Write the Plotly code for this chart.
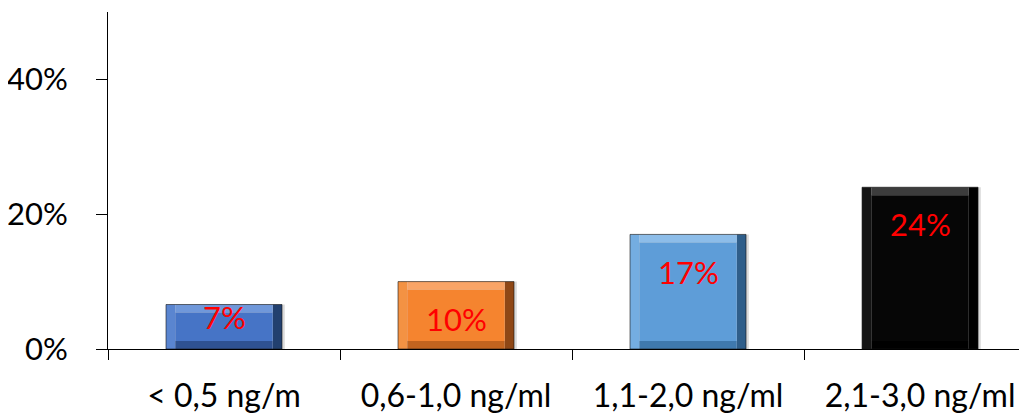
import plotly.graph_objects as go

categories = ["< 0,5 ng/m", "0,6-1,0 ng/ml", "1,1-2,0 ng/ml", "2,1-3,0 ng/ml"]
values = [6.6, 10.0, 17.0, 24.0]
labels = ["7%", "10%", "17%", "24%"]
tick_vals = [0, 20, 40]
tick_text = ["0%", "20%", "40%"]

face_colors = ["#4674C6", "#F5842F", "#5E9DD8", "#060606"]
top_colors = ["#7098DA", "#F9A466", "#8DBDE9", "#3C3C3C"]
left_colors = ["#5A85D0", "#F39243", "#74ADE1", "#141414"]
right_colors = ["#22406F", "#8E4716", "#2F5E8A", "#000000"]
bottom_colors = ["#2F5292", "#C2641F", "#3F79AE", "#000000"]
font_family = "Lato, 'Open Sans', sans-serif"

W = 0.5      # bar width (category units)
side = 0.04  # bevel side width (category units)
inset = 1.2  # bevel height (value units)

fig = go.Figure()
common = dict(x=categories, hoverinfo="skip", showlegend=False)
# soft shadow
fig.add_trace(go.Bar(y=values, width=W, offset=-W / 2 + 0.012,
                     marker=dict(color="rgba(0,0,0,0.14)", line=dict(width=0)), **common))
# left bevel
fig.add_trace(go.Bar(y=values, width=side, offset=-W / 2,
                     marker=dict(color=left_colors, line=dict(width=0)), **common))
# right bevel
fig.add_trace(go.Bar(y=values, width=side, offset=W / 2 - side,
                     marker=dict(color=right_colors, line=dict(width=0)), **common))
# bottom bevel
fig.add_trace(go.Bar(y=[inset] * len(values), base=0, width=W - 2 * side,
                     marker=dict(color=bottom_colors, line=dict(width=0)), **common))
# top bevel
fig.add_trace(go.Bar(y=[inset] * len(values), base=[v - inset for v in values],
                     width=W - 2 * side,
                     marker=dict(color=top_colors, line=dict(width=0)), **common))
# face
fig.add_trace(go.Bar(y=[v - 2 * inset for v in values], base=inset, width=W - 2 * side,
                     marker=dict(color=face_colors, line=dict(width=0)), **common))
# outline
fig.add_trace(go.Bar(y=values, width=W,
                     marker=dict(color="rgba(0,0,0,0)", line=dict(width=1, color="rgba(20,20,20,0.6)")),
                     **common))

shifts = [-12, -37, -38, -37]
for c, v, t, s in zip(categories, values, labels, shifts):
    fig.add_annotation(x=c, y=v, text=t, showarrow=False, yshift=s, yanchor="middle",
                       font=dict(color="#FF0000", size=31, family=font_family))

fig.update_layout(
    width=1019, height=406,
    margin=dict(l=100, r=0, t=4, b=65, autoexpand=False),
    paper_bgcolor="white", plot_bgcolor="white",
    barmode="overlay",
    font=dict(family=font_family, size=31, color="#000000"),
    xaxis=dict(range=[-0.5, 3.461], showline=True, linecolor="#000000", linewidth=1,
               ticks="outside", tickson="boundaries", ticklen=10, tickcolor="#000000",
               ticklabelstandoff=19, tickfont=dict(size=32),
               showgrid=False, zeroline=False, fixedrange=True),
    yaxis=dict(range=[0, 50], tickvals=tick_vals, ticktext=tick_text, showline=True,
               linecolor="#000000", linewidth=1, ticks="outside", ticklen=11,
               tickcolor="#000000", ticklabelstandoff=22, showgrid=False, zeroline=False,
               fixedrange=True),
)

fig.write_html("out.html")
